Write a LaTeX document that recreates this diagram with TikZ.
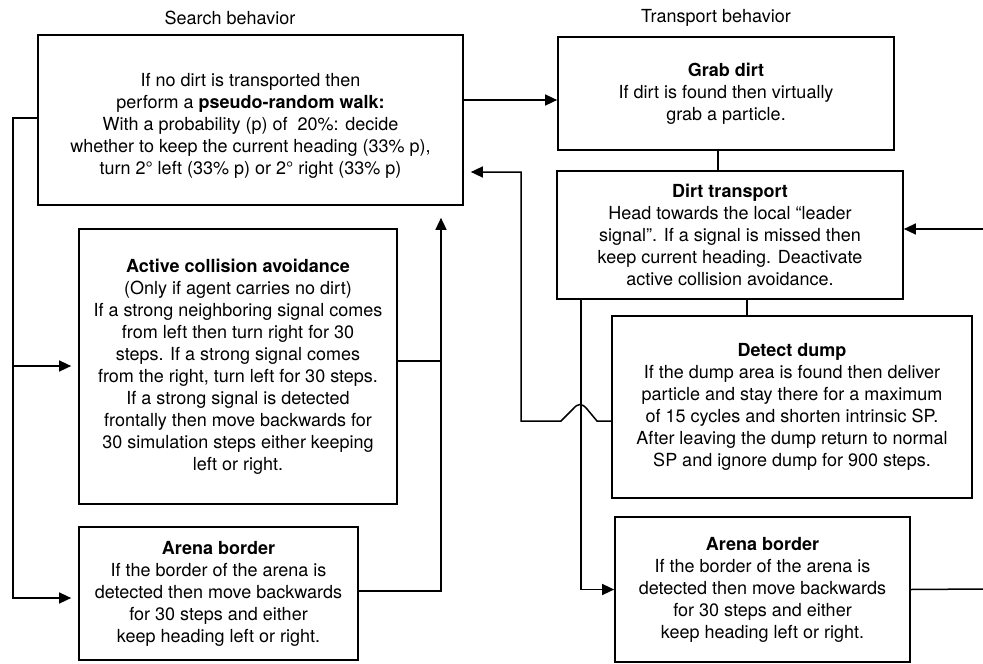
\documentclass[tikz,border=0pt]{standalone}
\usepackage{fontspec}
\setmainfont{TeX Gyre Heros}
\usetikzlibrary{arrows.meta}

\begin{document}
\begin{tikzpicture}[
    x = 1pt, y = -1pt,
    font = \fontsize{18}{22}\selectfont,
    block/.style = {draw, line width=1.7pt, inner sep=0pt, align=center},
    head/.style = {inner sep=0pt},
    link/.style = {line width=1.5pt},
    flow/.style = {link, -{Triangle[length=12pt,width=11pt]}},
    gap/.style = {shorten >= 7pt}
  ]
  \useasboundingbox (0,0) rectangle (983,664);

  % Headings
  \node[head] (search) at (230,18) {Search behavior};
  \node[head] (transport) at (716,18) {Transport behavior};

  % Search behavior
  \node[block, minimum width=425pt, minimum height=170pt] (walk) at (250.5,120)
    {\rule{0pt}{24pt}If no dirt is transported then\\
     perform a \textbf{pseudo-random walk:}\\
     With a probability (p) of\ \ 20\%: decide\\
     whether to keep the current heading (33\% p),\\
     turn 2° left (33\% p) or 2° right (33\% p)};
  \node[block, minimum width=318pt, minimum height=275pt] (avoid) at (238,366.5)
    {\textbf{Active collision avoidance}\\
     (Only if agent carries no dirt)\\
     If a strong neighboring signal comes\\
     from left then turn right for 30\\
     steps. If a strong signal comes\\
     from the right, turn left for 30 steps.\\
     If a strong signal is detected\\
     frontally then move backwards for\\
     30 simulation steps either keeping\\
     left or right.};
  \node[block, minimum width=279pt, minimum height=133pt] (border1) at (218.5,593.5)
    {\textbf{Arena border}\\
     If the border of the arena is\\
     detected then move backwards\\
     for 30 steps and either\\
     keep heading left or right.};

  % Transport behavior
  \node[block, minimum width=336pt, minimum height=113pt] (grab) at (726,93.5)
    {\textbf{Grab dirt}\\
     If dirt is found then virtually\\
     grab a particle.};
  \node[block, minimum width=346pt, minimum height=128pt] (carry) at (730,235)
    {\textbf{Dirt transport}\\
     Head towards the local “leader\\
     signal”. If a signal is missed then\\
     keep current heading. Deactivate\\
     active collision avoidance.};
  \node[block, minimum width=360pt, minimum height=182pt] (dump) at (792,407)
    {\textbf{Detect dump}\\
     If the dump area is found then deliver\\
     particle and stay there for a maximum\\
     of 15 cycles and shorten intrinsic SP.\\
     After leaving the dump return to normal\\
     SP and ignore dump for 900 steps.};
  \node[block, minimum width=295pt, minimum height=145pt] (border2) at (762.5,589.5)
    {\textbf{Arena border}\\
     If the border of the arena is\\
     detected then move backwards\\
     for 30 steps and either\\
     keep heading left or right.};

  % loose ends at the right margin
  \coordinate (out1) at (983,229);
  \coordinate (out2) at (983,589);

  % Connectors
  \draw[flow] (walk.east |- 0,100) -- (grab.west |- 0,100);
  \draw[link] (718,0 |- grab.south) -- (718,0 |- carry.north);
  \draw[link] (747,0 |- carry.south) -- (747,0 |- dump.north);
  \draw[flow] (581,0 |- carry.south) |- (border2.west);
  \draw[link] (border2.east) -- (out2);
  \draw[flow] (out1) -- (carry.east |- out1);
  \draw[flow, gap] (dump.west |- 0,421) -- (597,421)
    -- (587,409) .. controls (582,403) and (578,403) .. (573,409)
    -- (561,421) -- (521,421) |- (walk.east |- 0,172);

  \draw[link] (walk.west |- 0,118) -| (13,366);
  \draw[flow, gap] (13,366) |- (border1.west |- 0,598);
  \draw[flow, gap] (13,366) -- (avoid.west |- 0,366);
  \draw[link] (avoid.east |- 0,361) -- (441,361);
  \draw[flow, shorten >= 12pt] (border1.east |- 0,591) -| (441,0 |- walk.south);
\end{tikzpicture}
\end{document}
